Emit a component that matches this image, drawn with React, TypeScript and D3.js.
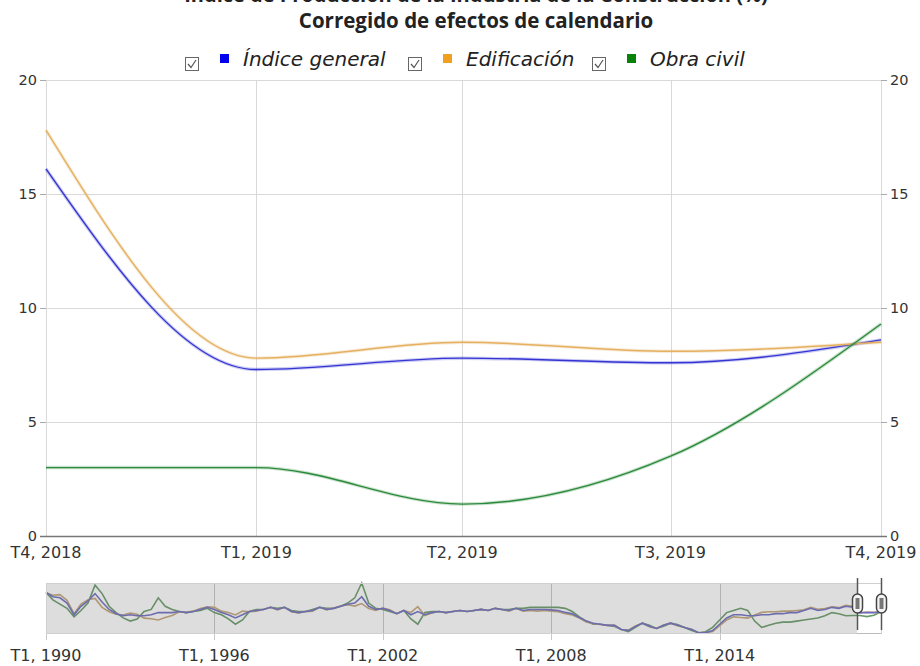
import { useRef, useEffect } from "react";
import * as d3 from "d3";

// series names and colours
const seriesNames = ["Índice general", "Edificación", "Obra civil"];
const seriesColors = ["#0000ee", "#f0a020", "#0a820a"];
const lineColors = ["#3434d2", "#e5b060", "#2b8a3b"];
const navColors = ["#6d6dc4", "#c4a676", "#679a67"];

// quarterly annual rates, T1 1990 .. T4 2019
const general = [
  39.4, 32.7, 31, 22.7, 4.3, 17.7, 26, 37.7, 24.4, 12.7,
  6, 2.7, 4.3, 2.7, 2.7, 4.3, 7.7, 7.7, 7.7, 9.4,
  7.7, 9.4, 12.7, 16, 12.7, 7.7, 4.3, -0.7, 4.3, 9.4,
  11, 12.7, 16, 12.7, 16, 9.4, 7.7, 9.4, 11, 16,
  12.7, 14.4, 17.7, 21, 22.7, 32.7, 17.7, 12.7, 14.4, 11,
  6, 11, 4.3, 9.4, 4.3, 7.7, 9.4, 7.7, 9.4, 11,
  9.4, 11, 12.7, 11, 14.4, 12.7, 11, 14.4, 11, 12.7,
  12.7, 12.7, 12, 11, 8, 6, 0, -5.7, -9, -10.7,
  -12.4, -12.4, -19, -20.7, -14, -9, -14, -17.4, -12.4, -9,
  -12.4, -15.7, -19, -24, -24, -20.7, -10.7, -0.7, 4.3, 4.3,
  2.7, 2.7, 4.3, 4.3, 6, 6, 7.7, 7.7, 11, 14.4,
  11, 12.7, 16, 14.4, 17.7, 16.1, 7.3, 7.8, 7.6, 8.6,
];
const edificacion = [
  39, 35, 36, 27, 6, 21, 28, 30, 16, 9,
  5, 4, 7, 5, -1, -2, -4, 0, 3, 9,
  8, 10, 14, 17, 16, 10, 8, 4, 10, 9,
  10, 13, 16, 12, 16, 9, 7, 9, 10, 16,
  12, 15, 18, 20, 18, 22, 14, 11, 15, 12,
  6, 11, 8, 17, 3, 7, 9.5, 7.7, 9.4, 11,
  9.4, 11, 12.7, 11, 14.4, 12.7, 10, 14.4, 10, 11,
  10, 11, 10, 9, 6, 4, -1, -7, -10, -11,
  -12.4, -12, -19, -20, -13.5, -9, -14.5, -17.4, -12, -9,
  -13, -15.7, -18.5, -24, -24.5, -22, -13, -4, 1, 0,
  -1, 4, 8, 9, 9, 10, 10, 11, 12, 16,
  13, 14, 17, 15.5, 19, 17.8, 7.8, 8.5, 8.1, 8.5,
];
const obraCivil = [
  39.4, 27.7, 21, 14.4, 1, 11, 22.7, 51, 37.7, 17.7,
  7.7, -0.7, -5.7, -2.3, 9.4, 12.7, 31, 17.7, 12.7, 9.4,
  7.7, 9.4, 11, 14.4, 7.7, 4.3, -2.3, -10.7, -4, 9.4,
  12.7, 12.7, 16, 14.4, 16, 11, 9.4, 9.4, 12.7, 16,
  14.4, 14.4, 17.7, 22.7, 31, 54.4, 22.7, 14.4, 12.7, 9.4,
  6, 11, -2.3, -10.7, 7.7, 9.4, 9.4, 7.7, 9.4, 11,
  9.4, 11, 12.7, 11, 14.4, 12.7, 12.7, 14.4, 14.4, 16,
  16, 16, 16, 16, 14.4, 9.4, 1, -5.7, -10.7, -10.7,
  -12.4, -14, -19, -22.4, -15.7, -9, -12.4, -17.4, -14, -9,
  -11, -15.7, -20.7, -24, -22.4, -15.7, -4, 7.7, 11, 14.4,
  11, -5.7, -15.7, -12.4, -9, -7.3, -7.3, -5.7, -4, -2.3,
  -0.7, 2.7, 7.7, 6, 2.7, 3.0, 3.0, 1.4, 3.5, 9.3,
];
const allSeries = [general, edificacion, obraCivil];

const yTicks = [0, 5, 10, 15, 20];
const navTickYears = [1990, 1996, 2002, 2008, 2014];
const mainCount = 5; // last five quarters shown in the main panel

const W = 920, H = 666;
const left = 46, right = 881, top = 80, bottom = 536;
const navTop = 583, navBottom = 633;

const dates = general.map((_, i) => new Date(1990, i * 3, 1));
const quarterLabel = (d: Date) => `T${Math.floor(d.getMonth() / 3) + 1}, ${d.getFullYear()}`;

export default function App() {
  const ref = useRef<SVGSVGElement>(null);

  useEffect(() => {
    const svg = d3.select(ref.current);
    svg.selectAll("*").remove();
    const font = "'DejaVu Sans', Verdana, sans-serif";

    // titles (first line is cut by the top edge, as in the source)
    svg.append("text").attr("x", 476).attr("y", 2).attr("text-anchor", "middle")
      .attr("font-family", "'Open Sans', sans-serif").attr("font-weight", 700).attr("font-size", 20)
      .attr("fill", "#222").text("Índice de Producción de la Industria de la Construcción (%)");
    svg.append("text").attr("x", 476).attr("y", 28).attr("text-anchor", "middle")
      .attr("font-family", "'Open Sans', sans-serif").attr("font-weight", 700).attr("font-size", 20.5)
      .attr("fill", "#222").text("Corregido de efectos de calendario");

    // legend
    const legendX = [185, 408, 592];
    seriesNames.forEach((name, i) => {
      const g = svg.append("g").attr("transform", `translate(${legendX[i]},0)`);
      g.append("rect").attr("x", 0.5).attr("y", 57.5).attr("width", 13).attr("height", 13)
        .attr("fill", "#fff").attr("stroke", "#666");
      g.append("path").attr("d", "M3,64 L6,67.5 L11,60").attr("fill", "none")
        .attr("stroke", "#555").attr("stroke-width", 1.2);
      g.append("rect").attr("x", 35).attr("y", 54).attr("width", 9).attr("height", 9)
        .attr("fill", seriesColors[i]);
      g.append("text").attr("x", 58).attr("y", 66).attr("font-family", font)
        .attr("font-style", "italic").attr("font-size", 20).attr("fill", "#222").text(name);
    });

    // main panel scales
    const mainDates = dates.slice(-mainCount);
    const x = d3.scaleTime().domain([mainDates[0], mainDates[mainCount - 1]]).range([left, right]);
    const y = d3.scaleLinear().domain([0, 20]).range([bottom, top]);

    // grid
    svg.append("g").selectAll("line").data(yTicks.slice(1)).join("line")
      .attr("x1", left).attr("x2", right).attr("y1", (d) => y(d) + 0.5).attr("y2", (d) => y(d) + 0.5)
      .attr("stroke", "#d9d9d9");
    svg.append("g").selectAll("line").data(mainDates).join("line")
      .attr("x1", (d) => Math.round(x(d)) + 0.5).attr("x2", (d) => Math.round(x(d)) + 0.5)
      .attr("y1", top).attr("y2", bottom).attr("stroke", "#d9d9d9");

    // y axes both sides
    [left, right].forEach((ax, k) => {
      const dir = k === 0 ? -1 : 1;
      svg.append("g").selectAll("line").data(yTicks).join("line")
        .attr("x1", ax).attr("x2", ax + dir * 6).attr("y1", (d) => y(d) + 0.5).attr("y2", (d) => y(d) + 0.5)
        .attr("stroke", "#aaa");
      svg.append("g").selectAll("text").data(yTicks).join("text")
        .attr("x", ax + dir * 9).attr("y", (d) => y(d) + 5)
        .attr("text-anchor", k === 0 ? "end" : "start")
        .attr("font-family", font).attr("font-size", 14.5).attr("fill", "#333").text((d) => d);
    });
    svg.append("line").attr("x1", left - 6).attr("x2", right + 6).attr("y1", bottom + 0.5).attr("y2", bottom + 0.5)
      .attr("stroke", "#777").attr("stroke-width", 1.5);

    // x labels
    svg.append("g").selectAll("text").data(mainDates).join("text")
      .attr("x", (d) => x(d)).attr("y", 558).attr("text-anchor", "middle")
      .attr("font-family", font).attr("font-size", 16).attr("fill", "#333").text(quarterLabel);

    // main lines
    const line = d3.line<number>().x((_, i) => x(mainDates[i])).y((d) => y(d)).curve(d3.curveMonotoneX);
    allSeries.forEach((s, i) => {
      svg.append("path").attr("d", line(s.slice(-mainCount))).attr("fill", "none")
        .attr("stroke", lineColors[i]).attr("stroke-opacity", 0.25).attr("stroke-width", 3.5);
      svg.append("path").attr("d", line(s.slice(-mainCount))).attr("fill", "none")
        .attr("stroke", lineColors[i]).attr("stroke-width", 1.4);
    });

    // navigator
    const nx = d3.scaleTime().domain([dates[0], dates[dates.length - 1]]).range([left, right]);
    const all = allSeries.flat();
    const ny = d3.scaleLinear().domain(d3.extent(all) as [number, number]).range([navBottom, navTop]);
    const navLine = d3.line<number>().x((_, i) => nx(dates[i])).y((d) => ny(d));

    const navTicks = navTickYears.map((yr) => new Date(yr, 0, 1));
    svg.append("g").selectAll("line").data(navTicks).join("line")
      .attr("x1", (d) => Math.round(nx(d)) + 0.5).attr("x2", (d) => Math.round(nx(d)) + 0.5)
      .attr("y1", navTop).attr("y2", 640).attr("stroke", "#c8c8c8");

    [2, 1, 0].forEach((i) => {
      svg.append("path").attr("d", navLine(allSeries[i])).attr("fill", "none")
        .attr("stroke", navColors[i]).attr("stroke-width", 1.6);
    });

    const selStart = nx(dates[dates.length - mainCount]) + 4;
    svg.append("rect").attr("x", left).attr("y", navTop).attr("width", selStart - left)
      .attr("height", navBottom - navTop).attr("fill", "rgba(110,110,110,0.23)");
    svg.append("rect").attr("x", left + 0.5).attr("y", navTop + 0.5).attr("width", right - left)
      .attr("height", navBottom - navTop).attr("fill", "none").attr("stroke", "#d0d0d0");
    svg.append("line").attr("x1", selStart).attr("x2", right).attr("y1", navBottom + 0.5).attr("y2", navBottom + 0.5)
      .attr("stroke", "#bbb");

    // handles
    [selStart, right].forEach((hx) => {
      const g = svg.append("g").attr("transform", `translate(${Math.round(hx) + 0.5},0)`);
      g.append("line").attr("y1", 578).attr("y2", 630).attr("stroke", "#555").attr("stroke-width", 1.5);
      g.append("rect").attr("x", -5).attr("y", 594).attr("width", 10).attr("height", 19).attr("rx", 5)
        .attr("fill", "#f4f4f4").attr("stroke", "#444").attr("stroke-width", 1.5);
      g.append("rect").attr("x", -2).attr("y", 598).attr("width", 4).attr("height", 11)
        .attr("fill", "#777");
    });

    svg.append("g").selectAll("text").data(navTicks).join("text")
      .attr("x", (d) => nx(d)).attr("y", 661).attr("text-anchor", "middle")
      .attr("font-family", font).attr("font-size", 16).attr("fill", "#333").text(quarterLabel);
  }, []);

  return (
    <svg ref={ref} width={W} height={H}
      style={{ position: "absolute", left: 0, top: 0, background: "#fff" }} />
  );
}
